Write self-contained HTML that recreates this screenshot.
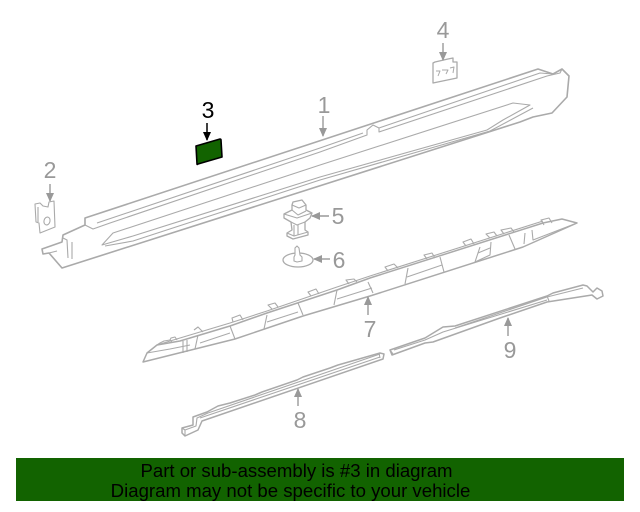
<!DOCTYPE html>
<html><head><meta charset="utf-8"><style>
html,body{margin:0;padding:0;background:#fff;width:640px;height:512px;overflow:hidden}
svg{display:block}
text{font-family:"Liberation Sans",sans-serif}
</style></head><body>
<svg width="640" height="512" viewBox="0 0 640 512" xmlns="http://www.w3.org/2000/svg">
<defs>
<marker id="a" markerWidth="9" markerHeight="8" refX="8" refY="4" orient="auto" markerUnits="userSpaceOnUse"><path d="M0 0L9 4L0 8z" fill="#999"/></marker>
<marker id="b" markerWidth="9" markerHeight="8" refX="8" refY="4" orient="auto" markerUnits="userSpaceOnUse"><path d="M0 0L9 4L0 8z" fill="#000"/></marker>
</defs>
<g fill="none" stroke="#aaa" stroke-width="1.1" stroke-linejoin="round">
<!-- part 1 -->
<path stroke-width="1.6" d="M85 218L538 69L553 74L562 69L569 76L567 97L552 113L533 117L520 122L62 268L49 253L43 254L42 249L62 242L63 235L85 225Z" fill="#fff"/>
<path d="M85 218L85 225L93 229L110 223L320 152L367 135L367 130L373 125L379 128L379 132L547 76L560 73L562 69"/>
<path d="M97 223L320 148L363 133M379 128L540 73L553 74"/>
<path d="M102 245L113 233L320 165L513 103L530 105L503 120L487 130L320 177L133 236L102 245Z"/>
<path d="M105 246L133 241L320 180L490 131L533 108"/>
<path d="M63 238L67 240L68 258M72 242L72 259M49 253L57 251"/>
<!-- part 2 -->
<path d="M35 204L36 222L39 223L40 233L55 227L54 201L49 202L48 207L43 206L40 203ZM38 207L38 222" fill="#fff"/>
<ellipse cx="47" cy="221" rx="3" ry="4" transform="rotate(15 47 221)"/>
<!-- part 4 -->
<path stroke-width="1.3" d="M433 63L435 62L448 59L453 58L453 62L457 62L457 78L433 83Z"/>
<path d="M436 71L440 71L438 76M442 70L448 70L446 74M450 68L454 67L453 73" stroke-width="1"/>
<!-- part 5 -->
<path stroke-width="1.3" d="M292 205L293 202L302 200L306 205L306 210L312 213L310 218L305 222L305 230L308 232L308 235L293 239L287 236L287 233L292 230L291 222L284 218L284 214L292 210Z" fill="#fff"/>
<path d="M284 214L297 218L312 213M292 210L298 215L306 211M291 222L297 225L305 222M287 233L294 236L308 232M294 225L294 236M298 225L298 235M292 205L299 208L306 205"/>
<!-- part 6 -->
<ellipse cx="298" cy="260" rx="15" ry="7" stroke-width="1.3"/>
<path d="M295 255L295 248L297 246L299 248L300 255L302 257L302 261L297 262L294 261L294 257Z" fill="#fff"/>
<!-- part 7 -->
<path stroke-width="1.5" d="M143 362L147 353L157 345L180 341L230 326L267 313L337 290L370 278L543 223L562 219L577 223L523 247L370 296L303 316L235 339L195 349L143 362Z" fill="#fff"/>
<path d="M157 345L180 338L230 323L267 311L337 287L370 276L543 221M147 353L170 349L190 345"/>
<path d="M157 345L160 343L164 341L170 340L172 342M170 340L171 338L175 337L177 340"/>
<path d="M194 330L198 327L203 332M233 322L232 318L240 315L243 320M272 309L268 305L275 303L278 307M311 296L308 292L316 289L319 294M349 284L346 280L354 279L357 282M388 271L385 267L394 264L398 268M427 259L424 255L432 253L435 258M466 246L463 242L471 239L474 244M490 238L486 234L494 232L497 236M504 234L501 230L511 228L514 232M544 225L541 220L549 218L552 223"/>
<path d="M183 341L183 353M187 340L187 352M198 335L195 349M230 326L235 339M267 315L264 329M298 303L303 315M337 290L334 305M368 282L373 293M408 268L405 284M440 257L444 272M480 247L475 262L490 255L491 242M509 235L515 249M525 233L524 244M532 230L533 240L577 223"/>
<path d="M200 343L230 333M267 322L298 312M337 299L372 288M407 277L442 265M478 253L490 248" stroke-width="1"/>
<!-- part 8 -->
<path stroke-width="1.5" d="M182 428L193 425L193 417L207 412L218 406L230 403L255 395L262 392L297 380L303 377L330 368L338 365L380 353L384 354L383 359L202 421L198 430L185 436L182 433Z" fill="#fff"/>
<path d="M182 428L185 430L185 436M185 430L196 426L197 418L208 413L380 354M379 353L380 358M200 418L380 357"/>
<!-- part 9 -->
<path stroke-width="1.5" d="M390 350L425 338L443 327L455 326L547 296L553 293L583 285L587 286L593 292L597 288L602 291L603 296L597 299L592 295L547 302L500 318L433 342L425 343L392 355Z" fill="#fff"/>
<path d="M394 350L425 340L443 332L547 300M455 328L547 297L583 288M547 296L549 301M390 350L393 354"/>
</g>
<!-- leaders -->
<g stroke="#999" stroke-width="1.4" fill="none">
<line x1="323" y1="116" x2="323" y2="136" marker-end="url(#a)"/>
<line x1="50" y1="184" x2="50" y2="201" marker-end="url(#a)"/>
<line x1="443" y1="43" x2="443" y2="60" marker-end="url(#a)"/>
<line x1="329" y1="216" x2="312" y2="216" marker-end="url(#a)"/>
<line x1="330" y1="259" x2="314" y2="259" marker-end="url(#a)"/>
<line x1="368" y1="315" x2="368" y2="297" marker-end="url(#a)"/>
<line x1="298" y1="406" x2="298" y2="389" marker-end="url(#a)"/>
<line x1="508" y1="336" x2="508" y2="318" marker-end="url(#a)"/>
</g>
<g fill="#999" font-size="23" text-anchor="middle">
<text x="324" y="113">1</text>
<text x="50" y="178">2</text>
<text x="443" y="38">4</text>
<text x="338" y="224">5</text>
<text x="339" y="268">6</text>
<text x="370" y="337">7</text>
<text x="300" y="428">8</text>
<text x="510" y="358">9</text>
</g>
<text x="208" y="118" font-size="23" text-anchor="middle" fill="#000">3</text>
<line x1="207" y1="123" x2="207" y2="140" stroke="#000" stroke-width="1.5" marker-end="url(#b)"/>
<path d="M196 146L220 139Q221 139 221 140L222 157L198 164Q197 165 197 164Z" fill="#126300" stroke="#000" stroke-width="1.6" stroke-linejoin="round"/>
<rect x="16" y="458" width="608" height="43" fill="#126300"/>
<text x="296.500" y="477" font-size="18.600" text-anchor="middle" fill="#000">Part or sub-assembly is #3 in diagram</text>
<text x="290.500" y="497" font-size="18.600" text-anchor="middle" fill="#000">Diagram may not be specific to your vehicle</text>
</svg>
</body></html>
